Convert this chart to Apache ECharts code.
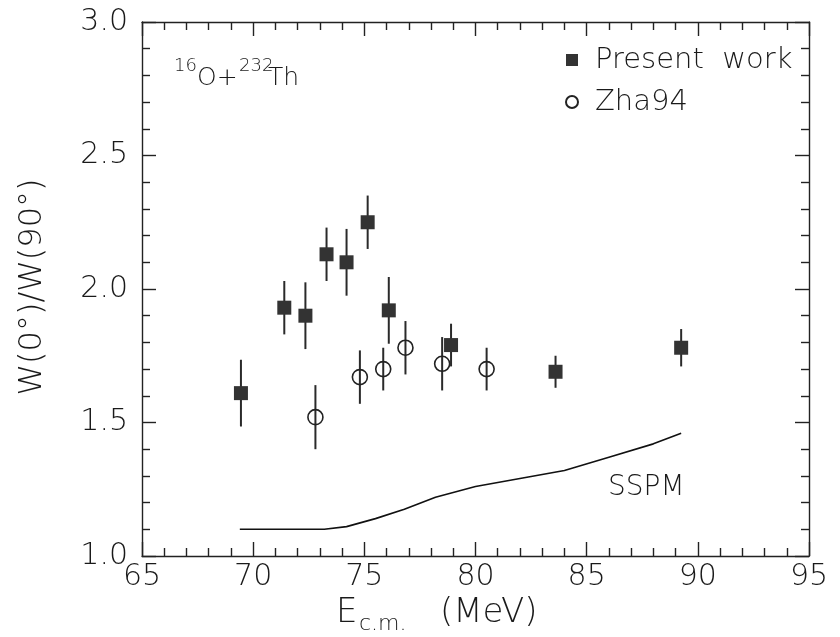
<!DOCTYPE html>
<html>
<head>
<meta charset="utf-8">
<script src="https://cdn.jsdelivr.net/npm/echarts@6/dist/echarts.min.js"></script>
<style>html,body{margin:0;padding:0;background:#fff}#c{width:840px;height:637px}</style>
</head>
<body>
<div id="c"></div>
<script>
// Present work
var presentE   = [69.45, 71.4, 72.35, 73.3, 74.2, 75.15, 76.1, 78.9, 83.6, 89.25];
var presentW   = [1.61, 1.93, 1.90, 2.13, 2.10, 2.25, 1.92, 1.79, 1.69, 1.78];
var presentErr = [0.125, 0.10, 0.125, 0.10, 0.125, 0.10, 0.125, 0.08, 0.06, 0.07];
// Zha94
var zhaE   = [72.8, 74.8, 75.85, 76.85, 78.5, 80.5];
var zhaW   = [1.52, 1.67, 1.70, 1.78, 1.72, 1.70];
var zhaErr = [0.12, 0.10, 0.08, 0.10, 0.10, 0.08];
// SSPM curve
var sspmE = [69.4, 73.2, 74.2, 75.5, 76.8, 78.2, 80.0, 82.0, 84.0, 86.0, 88.0, 89.25];
var sspmW = [1.10, 1.10, 1.11, 1.14, 1.175, 1.22, 1.26, 1.29, 1.32, 1.37, 1.42, 1.46];
// axes
var xMin = 65, xMax = 95, xStep = 5;
var yMin = 1.0, yMax = 3.0, yStep = 0.5;

function zip(a, b, c) { return a.map(function (v, i) { return c ? [v, b[i], c[i]] : [v, b[i]]; }); }

var FONT = 'DejaVu Sans';
var FW = 200;
var TXT = '#1a1a1a';
var INK = '#222';

function errRender(params, api) {
  var x = api.value(0), y = api.value(1), e = api.value(2);
  var p1 = api.coord([x, y - e]);
  var p2 = api.coord([x, y + e]);
  return {
    type: 'line',
    shape: { x1: p1[0], y1: p1[1], x2: p2[0], y2: p2[1] },
    style: { stroke: '#2a2a2a', lineWidth: 2 }
  };
}

function xAx(pos, showLabel) {
  return {
    type: 'value', position: pos, min: xMin, max: xMax, interval: xStep,
    axisLine: { show: true, onZero: false, lineStyle: { color: INK, width: 1.4 } },
    axisTick: { show: true, inside: true, length: 14, lineStyle: { color: INK, width: 1.4 } },
    minorTick: { show: true, splitNumber: 5, length: 8, lineStyle: { color: INK, width: 1.4 } },
    splitLine: { show: false },
    axisLabel: { show: showLabel, fontFamily: FONT, fontWeight: FW, fontSize: 30, color: TXT, margin: 6 }
  };
}
function yAx(pos, showLabel) {
  return {
    type: 'value', position: pos, min: yMin, max: yMax, interval: yStep,
    axisLine: { show: true, onZero: false, lineStyle: { color: INK, width: 1.4 } },
    axisTick: { show: true, inside: true, length: 14, lineStyle: { color: INK, width: 1.4 } },
    minorTick: { show: true, splitNumber: 5, length: 8, lineStyle: { color: INK, width: 1.4 } },
    splitLine: { show: false },
    axisLabel: { show: showLabel, fontFamily: FONT, fontWeight: FW, fontSize: 30, color: TXT, margin: 14,
      formatter: function (v) { return v.toFixed(1); } }
  };
}
function f(size) { return FW + ' ' + size + 'px "' + FONT + '"'; }

var chart = echarts.init(document.getElementById('c'), null, { renderer: 'canvas' });
chart.setOption({
  animation: false,
  backgroundColor: '#fff',
  grid: { left: 142, right: 31, top: 22, bottom: 81 },
  xAxis: [xAx('bottom', true), xAx('top', false)],
  yAxis: [yAx('left', true), yAx('right', false)],
  legend: {
    orient: 'vertical', left: 560, top: 40, itemWidth: 12, itemHeight: 12, itemGap: 12,
    data: ['Present work', 'Zha94'],
    formatter: function (n) { return n === 'Present work' ? 'Present  work' : n; },
    textStyle: { fontFamily: FONT, fontWeight: FW, fontSize: 29, color: TXT, padding: [0, 0, 0, 12], lineHeight: 30 }
  },
  series: [
    { type: 'line', name: 'SSPM', data: zip(sspmE, sspmW), showSymbol: false, symbol: 'none',
      lineStyle: { color: '#111', width: 1.6 }, z: 2 },
    { type: 'custom', name: 'errP', renderItem: errRender, data: zip(presentE, presentW, presentErr), z: 3 },
    { type: 'custom', name: 'errZ', renderItem: errRender, data: zip(zhaE, zhaW, zhaErr), z: 3 },
    { type: 'scatter', name: 'Present work', data: zip(presentE, presentW), symbol: 'rect', symbolSize: 14,
      itemStyle: { color: '#333', opacity: 1 }, z: 5 },
    { type: 'scatter', name: 'Zha94', data: zip(zhaE, zhaW), symbol: 'circle', symbolSize: 15,
      itemStyle: { color: 'rgba(255,255,255,0)', borderColor: '#222', borderWidth: 1.6, opacity: 1 }, z: 5 }
  ],
  graphic: [
    { type: 'text', left: 174, top: 57, style: { text: '16', font: f(18), fill: TXT } },
    { type: 'text', left: 197, top: 66, style: { text: 'O+', font: f(25), fill: TXT } },
    { type: 'text', left: 239, top: 57, style: { text: '232', font: f(18), fill: TXT } },
    { type: 'text', left: 268, top: 66, style: { text: 'Th', font: f(25), fill: TXT } },
    { type: 'text', left: 608, top: 474, style: { text: 'SSPM', font: f(28), fill: TXT } },
    { type: 'text', left: 336, top: 596, style: { text: 'E', font: f(34), fill: TXT } },
    { type: 'text', left: 359, top: 613, style: { text: 'c.m.', font: f(22), fill: TXT } },
    { type: 'text', left: 440, top: 596, style: { text: '(MeV)', font: f(34), fill: TXT } },
    { type: 'text', x: 33, y: 287, rotation: Math.PI / 2,
      style: { text: 'W(0°)/W(90°)', font: f(32), fill: TXT, align: 'center', verticalAlign: 'middle' } }
  ]
});
</script>
</body>
</html>
